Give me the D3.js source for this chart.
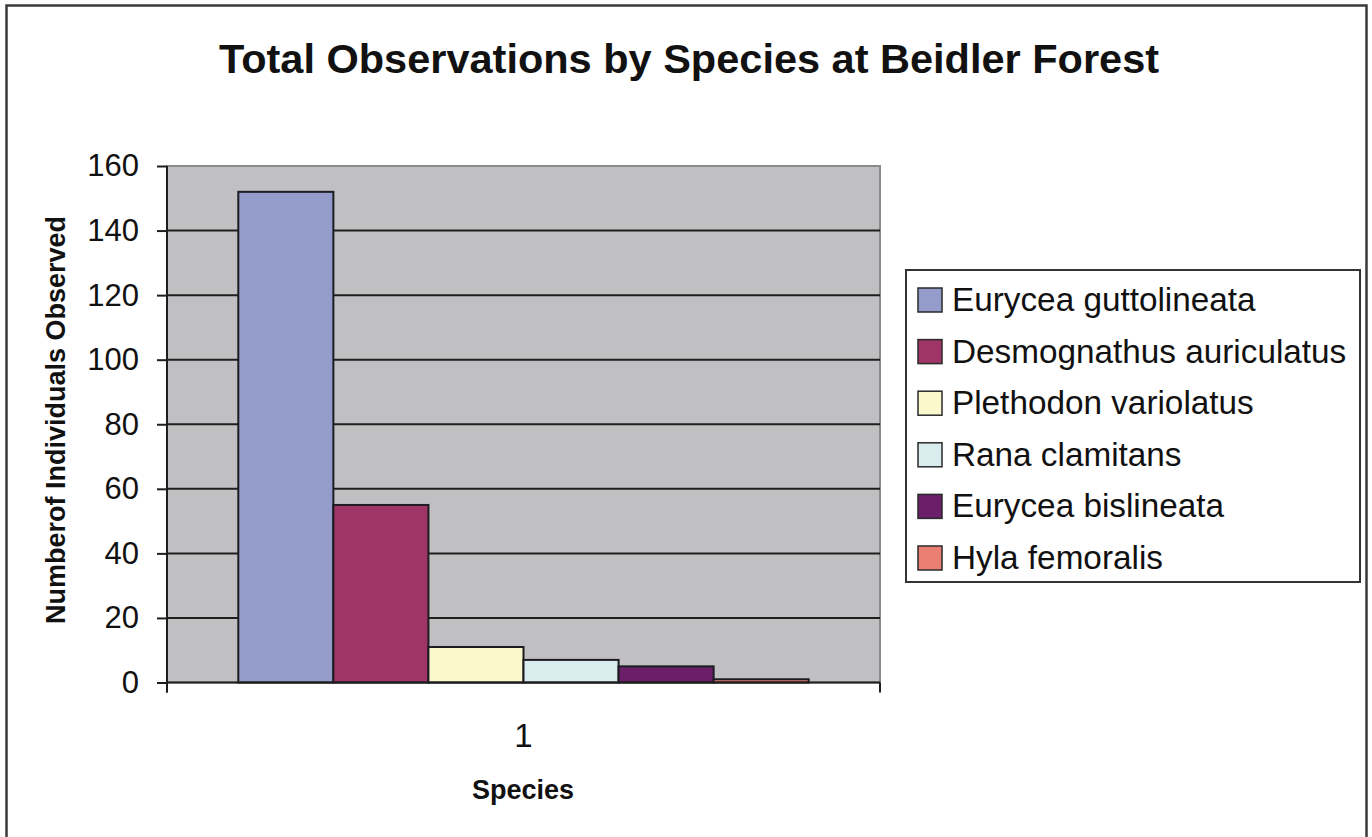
<!DOCTYPE html>
<html>
<head>
<meta charset="utf-8">
<script src="https://cdn.jsdelivr.net/npm/d3@7"></script>
<style>
  html, body { margin: 0; padding: 0; background: #fff; }
  svg { display: block; }
  text { font-family: Arial, "Liberation Sans", sans-serif; fill: #111; }
</style>
</head>
<body>
<svg id="chart" width="1372" height="837"></svg>
<script>
// Observation counts at Beidler Forest
const categories = ["1"];
const species = [
  "Eurycea guttolineata",
  "Desmognathus auriculatus",
  "Plethodon variolatus",
  "Rana clamitans",
  "Eurycea bislineata",
  "Hyla femoralis"
];
const counts = [152, 55, 11, 7, 5, 1];
const colors = ["#939cca", "#9e3566", "#fbf8cc", "#d9ecee", "#6b1f6a", "#ec7f74"];
const yTicks = [0, 20, 40, 60, 80, 100, 120, 140, 160];

const svg = d3.select("#chart");

// outer chart frame
svg.append("rect")
  .attr("x", 6.5).attr("y", 5.5)
  .attr("width", 1360).attr("height", 840)
  .attr("fill", "#fff")
  .attr("stroke", "#3a3a3a").attr("stroke-width", 2.5);

const plot = { left: 167, right: 880, top: 166, bottom: 682.5 };

const y = d3.scaleLinear().domain([0, 160]).range([plot.bottom, plot.top]);
const x0 = d3.scaleBand().domain(categories)
  .range([plot.left, plot.right]).paddingInner(0).paddingOuter(0.125);
const x1 = d3.scaleBand().domain(species).range([0, x0.bandwidth()]);

// plot area background
svg.append("rect")
  .attr("x", plot.left).attr("y", plot.top)
  .attr("width", plot.right - plot.left).attr("height", plot.bottom - plot.top)
  .attr("fill", "#c0c0c2")
  .attr("stroke", "#8a8a8c").attr("stroke-width", 2);

// horizontal gridlines
svg.append("g").selectAll("line")
  .data(yTicks.filter(d => d > 0 && d < 160))
  .join("line")
  .attr("x1", plot.left).attr("x2", plot.right)
  .attr("y1", d => y(d)).attr("y2", d => y(d))
  .attr("stroke", "#1e1e1e").attr("stroke-width", 2);

// bars
const group = svg.append("g")
  .selectAll("g")
  .data(categories)
  .join("g")
  .attr("transform", d => `translate(${x0(d)},0)`);

group.selectAll("rect")
  .data(() => species.map((s, i) => ({ s, v: counts[i], c: colors[i] })))
  .join("rect")
  .attr("x", d => x1(d.s))
  .attr("y", d => y(d.v))
  .attr("width", x1.bandwidth())
  .attr("height", d => y(0) - y(d.v))
  .attr("fill", d => d.c)
  .attr("stroke", "#1c1c22").attr("stroke-width", 2);

// y axis
const yAxis = d3.axisLeft(y).tickValues(yTicks).tickSize(10).tickPadding(18);
const gy = svg.append("g")
  .attr("transform", `translate(${plot.left},0)`)
  .call(yAxis);
gy.select(".domain").attr("stroke", "#1e1e1e").attr("stroke-width", 2)
  .attr("d", `M0,${plot.top}V${plot.bottom + 10}`);
gy.selectAll(".tick line").attr("stroke", "#1e1e1e").attr("stroke-width", 2);
gy.selectAll(".tick text")
  .style("font-family", "Arial, 'Liberation Sans', sans-serif")
  .style("font-size", "31px").attr("fill", "#111");

// x axis
const xAxis = d3.axisBottom(x0).tickSize(0).tickPadding(0);
const gx = svg.append("g")
  .attr("transform", `translate(0,${plot.bottom})`)
  .call(xAxis);
gx.select(".domain").attr("stroke", "#1e1e1e").attr("stroke-width", 2)
  .attr("d", `M${plot.left},0H${plot.right}`);
gx.selectAll(".tick text")
  .attr("y", 64).attr("dy", null)
  .style("font-family", "Arial, 'Liberation Sans', sans-serif")
  .style("font-size", "33px").attr("fill", "#111");
// category boundary ticks
gx.selectAll(".edge")
  .data(x0.range())
  .join("line")
  .attr("class", "edge")
  .attr("x1", d => d).attr("x2", d => d)
  .attr("y1", 0).attr("y2", 10)
  .attr("stroke", "#1e1e1e").attr("stroke-width", 2);

// titles
svg.append("text")
  .attr("x", 689).attr("y", 73)
  .attr("text-anchor", "middle")
  .style("font-size", "41.5px").style("font-weight", "bold")
  .text("Total Observations by Species at Beidler Forest");

svg.append("text")
  .attr("x", 523).attr("y", 799)
  .attr("text-anchor", "middle")
  .style("font-size", "27px").style("font-weight", "bold")
  .text("Species");

svg.append("text")
  .attr("transform", "translate(65,420) rotate(-90)")
  .attr("text-anchor", "middle")
  .style("font-size", "27px").style("font-weight", "bold")
  .text("Numberof Individuals Observed");

// legend
const legend = svg.append("g");
legend.append("rect")
  .attr("x", 906).attr("y", 270)
  .attr("width", 454).attr("height", 312)
  .attr("fill", "#fff")
  .attr("stroke", "#333").attr("stroke-width", 2);

const rows = legend.selectAll("g.row")
  .data(species)
  .join("g")
  .attr("class", "row")
  .attr("transform", (d, i) => `translate(918,${300 + i * 51.6})`);

rows.append("rect")
  .attr("x", 0).attr("y", -12)
  .attr("width", 24).attr("height", 24)
  .attr("fill", (d, i) => colors[i])
  .attr("stroke", "#2a2a2a").attr("stroke-width", 1.5);

rows.append("text")
  .attr("x", 34).attr("y", 11)
  .style("font-size", "33.3px")
  .text(d => d);
</script>
</body>
</html>
